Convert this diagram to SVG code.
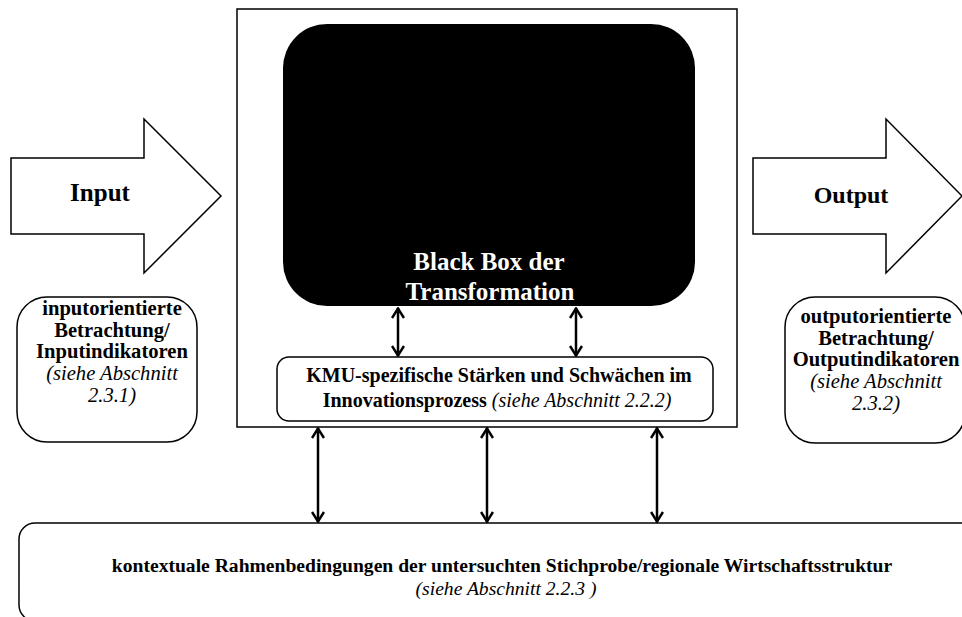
<svg xmlns="http://www.w3.org/2000/svg" width="962" height="617" viewBox="0 0 962 617" font-family="'Liberation Serif', serif">
  <style>
    .shape { fill: #ffffff; stroke: #000000; stroke-width: 1.5; }
    .t { text-anchor: middle; fill: #000000; }
    .b { font-weight: bold; }
    .i { font-style: italic; font-weight: normal; }
    .big { font-size: 25px; font-weight: bold; }
    .txt { font-size: 20px; }
    .side { font-size: 20.6px; }
    .ctx { font-size: 19.6px; }
    .inv { fill: #ffffff; }
    .link { stroke: #000000; stroke-width: 2.5; fill: none; marker-start: url(#head); marker-end: url(#head); }
  </style>
  <defs>
    <marker id="head" viewBox="0 0 12 14" refX="11" refY="7" markerWidth="12" markerHeight="14" markerUnits="userSpaceOnUse" orient="auto-start-reverse">
      <path d="M1,1 L10.5,7 L1,13" fill="none" stroke="#000000" stroke-width="2.5"/>
    </marker>
  </defs>

  <rect width="962" height="617" fill="#ffffff"/>

  <!-- Input block arrow -->
  <g id="input">
    <polygon class="shape" points="11,158 144,158 144,119 221,196 144,273 144,234 11,234"/>
    <text class="t big" x="100" y="201">Input</text>
  </g>

  <!-- Output block arrow -->
  <g id="output">
    <polygon class="shape" points="753,158 886,158 886,119 962,196 886,273 886,234 753,234"/>
    <text class="t big" x="851" y="203" style="font-size:24px">Output</text>
  </g>

  <!-- Transformation frame -->
  <g id="frame">
    <rect class="shape" x="237" y="9" width="500" height="418"/>
  </g>

  <!-- Black box -->
  <g id="blackbox">
    <rect x="283" y="24" width="412" height="282" rx="44" ry="44" fill="#000000"/>
    <text class="t big inv" x="489" y="270">Black Box der</text>
    <text class="t big inv" x="490" y="300">Transformation</text>
  </g>

  <!-- KMU strengths and weaknesses -->
  <g id="kmu">
    <rect class="shape" x="277" y="357" width="436" height="64" rx="12" ry="12"/>
    <text class="t txt b" x="499" y="382">KMU-spezifische Stärken und Schwächen im</text>
    <text class="t txt" x="497" y="407"><tspan class="b">Innovationsprozess </tspan><tspan class="i">(siehe Abschnitt 2.2.2)</tspan></text>
  </g>

  <!-- Input indicators -->
  <g id="input-indicators">
    <rect class="shape" x="17" y="297" width="180" height="145" rx="30" ry="30"/>
    <text class="t side b" x="112" y="315">inputorientierte</text>
    <text class="t side b" x="112" y="337">Betrachtung/</text>
    <text class="t side b" x="112" y="358">Inputindikatoren</text>
    <text class="t side i" x="112" y="380">(siehe Abschnitt</text>
    <text class="t side i" x="112" y="402">2.3.1)</text>
  </g>

  <!-- Output indicators -->
  <g id="output-indicators">
    <rect class="shape" x="785" y="297" width="180" height="146" rx="30" ry="30"/>
    <text class="t side b" x="876" y="323">outputorientierte</text>
    <text class="t side b" x="876" y="345">Betrachtung/</text>
    <text class="t side b" x="876" y="366">Outputindikatoren</text>
    <text class="t side i" x="876" y="388">(siehe Abschnitt</text>
    <text class="t side i" x="876" y="410">2.3.2)</text>
  </g>

  <!-- Context conditions -->
  <g id="context">
    <rect class="shape" x="19" y="523" width="960" height="98" rx="16" ry="16"/>
    <text class="t ctx b" x="502" y="572">kontextuale Rahmenbedingungen der untersuchten Stichprobe/regionale Wirtschaftsstruktur</text>
    <text class="t ctx i" x="506" y="595">(siehe Abschnitt 2.2.3 )</text>
  </g>

  <!-- Connectors -->
  <g id="connectors">
    <line class="link" x1="398" y1="308" x2="398" y2="356"/>
    <line class="link" x1="576" y1="308" x2="576" y2="356"/>
    <line class="link" x1="318" y1="428" x2="318" y2="522"/>
    <line class="link" x1="487" y1="428" x2="487" y2="522"/>
    <line class="link" x1="657" y1="428" x2="657" y2="522"/>
  </g>
</svg>
